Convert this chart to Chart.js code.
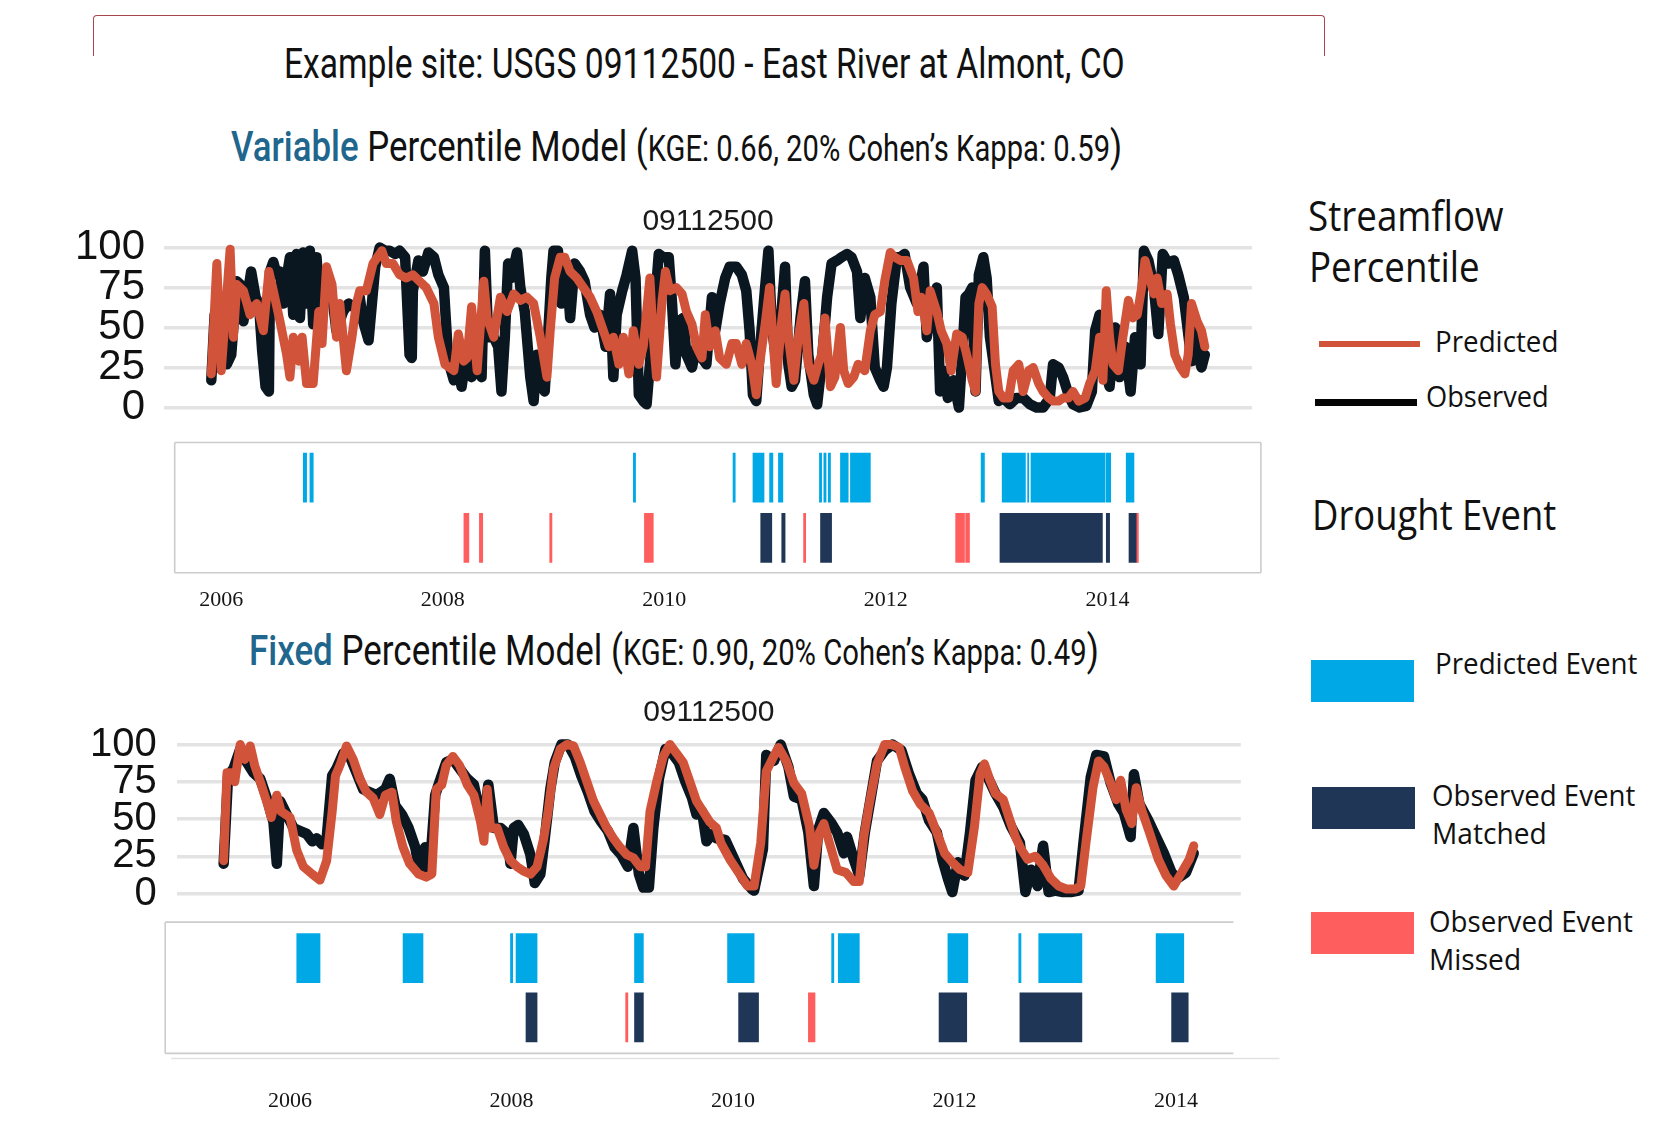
<!DOCTYPE html>
<html lang="en">
<head>
<meta charset="utf-8">
<title>Example site: USGS 09112500 - East River at Almont, CO</title>
<script src="https://cdn.jsdelivr.net/npm/chart.js@4.4.1/dist/chart.umd.min.js"></script>
<style>
  html, body { margin:0; padding:0; background:#fff; }
  #page { position:relative; width:1660px; height:1143px; overflow:hidden; background:#fff; }
  .box { position:absolute; }
  .fit { position:absolute; white-space:nowrap; line-height:1; transform-origin:0 50%; }
  .ttl { font-family:Roboto, 'Liberation Sans', sans-serif; color:#111; }
  .leg { font-family:'Open Sans', 'DejaVu Sans', sans-serif; color:#111; }
  .blue { color:#20668d; font-weight:500; }
  canvas { position:absolute; display:block; }
</style>
</head>
<body>
<div id="page">
  <div class="box" style="left:93px;top:15px;width:1230px;height:40px;border:1.5px solid #a5474c;border-bottom:none;border-radius:4px 4px 0 0;"></div>
  <div class="fit ttl" data-cx="704" data-cy="63.5" data-w="841" style="font-size:43px;">Example site: USGS 09112500 - East River at Almont, CO</div>
  <div class="fit ttl" data-cx="676.5" data-cy="146" data-w="891" style="font-size:43px;"><span class="blue">Variable</span> Percentile Model (<span style="font-size:36px">KGE: 0.66, 20% Cohen’s Kappa: 0.59</span>)</div>
  <div class="fit ttl" data-cx="674" data-cy="650" data-w="850" style="font-size:43px;"><span class="blue">Fixed</span> Percentile Model (<span style="font-size:36px">KGE: 0.90, 20% Cohen’s Kappa: 0.49</span>)</div>

  <canvas id="lineVar" width="1260" height="250" style="left:40px;top:190px"></canvas>
  <canvas id="evVar" width="1130" height="190" style="left:150px;top:430px"></canvas>
  <canvas id="lineFix" width="1260" height="240" style="left:40px;top:680px"></canvas>
  <canvas id="evFix" width="1140" height="210" style="left:140px;top:915px"></canvas>

  <!-- legend -->
  <div class="fit leg" data-x="1307.5" data-cy="215" data-w="196" style="font-size:42px;">Streamflow</div>
  <div class="fit leg" data-x="1308.5" data-cy="265.7" data-w="170.5" style="font-size:42px;">Percentile</div>
  <div class="box" style="left:1319px;top:340.8px;width:101px;height:6.4px;background:#d1533a;"></div>
  <div class="fit leg" data-x="1434.5" data-cy="340" data-w="123.5" style="font-size:29px;">Predicted</div>
  <div class="box" style="left:1315px;top:398.5px;width:101.5px;height:7px;background:#050505;"></div>
  <div class="fit leg" data-x="1426" data-cy="395" data-w="123" style="font-size:29px;">Observed</div>
  <div class="fit leg" data-x="1311.7" data-cy="513.5" data-w="244.5" style="font-size:42px;">Drought Event</div>
  <div class="box" style="left:1310.7px;top:659.6px;width:103.7px;height:42.4px;background:#00a9e6;"></div>
  <div class="fit leg" data-x="1434.5" data-cy="662.7" data-w="202" style="font-size:29px;">Predicted Event</div>
  <div class="box" style="left:1311.7px;top:786.6px;width:103.8px;height:42.4px;background:#1f3657;"></div>
  <div class="fit leg" data-x="1432.4" data-cy="794" data-w="203" style="font-size:29px;">Observed Event</div>
  <div class="fit leg" data-x="1432.4" data-cy="832" data-w="114.4" style="font-size:29px;">Matched</div>
  <div class="box" style="left:1310.7px;top:911.5px;width:103.7px;height:42.5px;background:#ff5e5e;"></div>
  <div class="fit leg" data-x="1429" data-cy="920" data-w="203.5" style="font-size:29px;">Observed Event</div>
  <div class="fit leg" data-x="1429" data-cy="958" data-w="92" style="font-size:29px;">Missed</div>
</div>

<script>
// ---------------- data ----------------
const siteId = '09112500';
const yTicks = [0, 25, 50, 75, 100];
const yearTicks = [2006, 2008, 2010, 2012, 2014];

// Variable percentile model: streamflow percentile (decimal year, percentile)
const predVarX = [2005.91,2005.96,2006.00,2006.08,2006.11,2006.14,2006.20,2006.26,2006.32,2006.38,2006.43,2006.47,2006.53,2006.59,2006.62,2006.65,2006.70,2006.73,2006.77,2006.83,
  2006.88,2006.91,2006.95,2007.00,2007.04,2007.07,2007.13,2007.18,2007.22,2007.25,2007.31,2007.37,2007.45,2007.49,2007.55,2007.61,2007.67,2007.73,2007.79,2007.85,
  2007.92,2007.96,2008.02,2008.10,2008.14,2008.19,2008.22,2008.26,2008.31,2008.37,2008.40,2008.46,2008.52,2008.58,2008.64,2008.70,2008.76,2008.82,2008.88,2008.94,
  2008.97,2009.01,2009.06,2009.10,2009.15,2009.21,2009.27,2009.33,2009.39,2009.45,2009.50,2009.54,2009.59,2009.63,2009.68,2009.72,2009.77,2009.81,2009.87,2009.90,
  2009.93,2009.98,2010.01,2010.05,2010.11,2010.16,2010.20,2010.25,2010.29,2010.34,2010.37,2010.41,2010.46,2010.50,2010.56,2010.61,2010.65,2010.70,2010.74,2010.79,
  2010.83,2010.86,2010.91,2010.95,2010.98,2011.01,2011.06,2011.09,2011.12,2011.17,2011.21,2011.26,2011.30,2011.35,2011.39,2011.42,2011.45,2011.50,2011.54,2011.59,
  2011.62,2011.66,2011.71,2011.75,2011.81,2011.86,2011.90,2011.95,2011.99,2012.04,2012.08,2012.13,2012.19,2012.25,2012.29,2012.32,2012.37,2012.40,2012.46,2012.50,
  2012.55,2012.59,2012.64,2012.69,2012.73,2012.78,2012.81,2012.84,2012.87,2012.91,2012.96,2012.99,2013.02,2013.06,2013.11,2013.15,2013.20,2013.24,2013.29,2013.33,
  2013.38,2013.42,2013.47,2013.51,2013.56,2013.60,2013.65,2013.69,2013.74,2013.80,2013.84,2013.89,2013.93,2013.96,2013.99,2014.02,2014.05,2014.10,2014.14,2014.19,
  2014.23,2014.27,2014.31,2014.34,2014.39,2014.42,2014.45,2014.49,2014.54,2014.57,2014.61,2014.66,2014.70,2014.73,2014.76,2014.81,2014.85,2014.88];
const predVarY = [21,90,23,99,44,77,73,58,65,48,85,73,54,33,19,44,29,44,15,15,
  60,40,88,77,44,65,23,44,65,73,73,90,98,90,90,83,81,83,79,75,
  65,44,27,23,46,29,31,63,23,79,56,44,69,60,71,67,69,65,44,19,
  48,81,94,94,85,81,75,69,60,48,38,44,27,44,21,48,27,38,81,44,
  19,67,85,73,75,71,60,52,38,31,58,38,48,31,27,40,40,27,40,27,
  8,27,52,75,44,15,54,71,44,17,44,65,27,17,27,33,56,13,19,50,
  23,15,19,27,23,48,58,60,79,97,94,92,92,81,60,69,48,73,60,48,
  40,23,46,44,33,17,10,65,75,71,63,27,10,6,6,23,27,10,23,25,
  15,10,6,4,4,6,6,10,4,6,15,23,44,17,73,44,27,23,44,67,
  56,58,75,92,79,71,81,65,71,52,33,25,21,33,65,54,48,38];
const obsVarX = [2005.91,2005.94,2005.97,2006.02,2006.05,2006.09,2006.14,2006.17,2006.20,2006.23,2006.27,2006.31,2006.34,2006.37,2006.40,2006.43,2006.44,2006.47,2006.50,2006.53,
  2006.56,2006.59,2006.62,2006.65,2006.68,2006.71,2006.74,2006.77,2006.80,2006.83,2006.86,2006.89,2006.92,2006.95,2006.98,2007.01,2007.04,2007.07,2007.10,2007.15,
  2007.19,2007.22,2007.25,2007.28,2007.33,2007.36,2007.39,2007.43,2007.48,2007.52,2007.57,2007.61,2007.66,2007.70,2007.72,2007.73,2007.78,2007.82,2007.87,2007.92,
  2007.96,2008.01,2008.05,2008.10,2008.13,2008.17,2008.22,2008.26,2008.31,2008.35,2008.38,2008.41,2008.46,2008.50,2008.53,2008.56,2008.59,2008.62,2008.67,2008.70,
  2008.74,2008.79,2008.82,2008.85,2008.88,2008.92,2008.95,2008.98,2009.00,2009.04,2009.07,2009.12,2009.15,2009.19,2009.24,2009.28,2009.33,2009.37,2009.42,2009.47,
  2009.51,2009.54,2009.57,2009.62,2009.66,2009.71,2009.74,2009.77,2009.81,2009.84,2009.87,2009.92,2009.95,2009.99,2010.04,2010.07,2010.10,2010.13,2010.17,2010.20,
  2010.25,2010.29,2010.34,2010.38,2010.43,2010.46,2010.50,2010.55,2010.59,2010.65,2010.70,2010.74,2010.77,2010.80,2010.83,2010.86,2010.91,2010.94,2010.97,2011.01,
  2011.04,2011.09,2011.12,2011.15,2011.18,2011.23,2011.27,2011.30,2011.35,2011.38,2011.42,2011.47,2011.51,2011.56,2011.60,2011.65,2011.69,2011.74,2011.77,2011.81,
  2011.86,2011.90,2011.95,2011.98,2012.01,2012.05,2012.10,2012.13,2012.17,2012.22,2012.28,2012.34,2012.37,2012.41,2012.46,2012.49,2012.52,2012.56,2012.61,2012.66,
  2012.69,2012.72,2012.75,2012.78,2012.81,2012.84,2012.88,2012.91,2012.94,2012.99,2013.02,2013.06,2013.12,2013.18,2013.24,2013.30,2013.36,2013.42,2013.48,2013.51,
  2013.56,2013.60,2013.65,2013.69,2013.75,2013.81,2013.86,2013.89,2013.93,2013.98,2014.02,2014.07,2014.11,2014.16,2014.21,2014.25,2014.30,2014.33,2014.37,2014.42,
  2014.46,2014.50,2014.55,2014.60,2014.64,2014.69,2014.72,2014.76,2014.79,2014.82,2014.85,2014.88];
const obsVarY = [17,58,27,44,27,33,79,77,54,67,85,69,65,35,13,10,85,91,83,85,
  65,81,94,58,96,56,97,65,98,52,94,65,69,85,69,65,48,54,60,65,
  63,63,69,54,42,65,88,100,98,98,96,98,94,33,31,73,92,85,97,94,
  83,75,29,17,27,13,38,19,27,19,98,44,44,38,10,44,90,81,97,75,
  60,19,4,33,15,10,44,81,98,98,65,85,56,90,85,79,58,50,58,38,
  71,19,58,73,83,98,81,8,4,2,27,69,96,94,94,65,27,54,56,33,
  25,38,31,27,69,48,65,81,88,88,83,73,48,8,4,33,75,98,52,29,
  44,88,27,13,17,56,79,33,8,2,27,69,90,92,94,96,94,85,56,81,
  69,25,17,13,25,65,94,94,96,75,65,88,44,60,75,10,23,6,17,0,
  33,69,71,75,10,83,94,81,44,19,4,6,2,6,6,2,0,0,6,27,
  25,19,8,2,0,1,10,48,58,23,13,50,19,38,10,44,27,98,92,75,
  46,96,90,92,83,69,52,29,48,33,25,33];

// Fixed percentile model
const predFixX = [2005.40,2005.43,2005.47,2005.50,2005.55,2005.59,2005.64,2005.68,2005.74,2005.80,2005.83,2005.88,2005.92,2006.00,2006.06,2006.12,2006.20,2006.27,2006.33,2006.38,
  2006.41,2006.45,2006.51,2006.57,2006.63,2006.69,2006.75,2006.81,2006.86,2006.92,2006.96,2007.02,2007.08,2007.16,2007.23,2007.28,2007.32,2007.37,2007.41,2007.47,
  2007.53,2007.60,2007.66,2007.72,2007.75,2007.78,2007.81,2007.87,2007.93,2007.99,2008.05,2008.11,2008.17,2008.23,2008.29,2008.33,2008.38,2008.44,2008.50,2008.56,
  2008.62,2008.68,2008.74,2008.80,2008.86,2008.92,2008.98,2009.04,2009.10,2009.16,2009.21,2009.25,2009.31,2009.37,2009.43,2009.49,2009.55,2009.61,2009.67,2009.73,
  2009.79,2009.85,2009.89,2009.97,2010.05,2010.13,2010.19,2010.25,2010.30,2010.36,2010.41,2010.48,2010.55,2010.62,2010.69,2010.73,2010.78,2010.82,2010.87,2010.94,
  2011.02,2011.09,2011.14,2011.18,2011.23,2011.30,2011.37,2011.43,2011.50,2011.55,2011.62,2011.69,2011.77,2011.84,2011.91,2011.98,2012.05,2012.12,2012.18,2012.23,
  2012.27,2012.32,2012.37,2012.44,2012.50,2012.55,2012.60,2012.66,2012.73,2012.80,2012.87,2012.94,2013.01,2013.09,2013.14,2013.19,2013.25,2013.30,2013.35,2013.41,
  2013.46,2013.50,2013.55,2013.60,2013.64,2013.69,2013.76,2013.84,2013.91,2013.98,2014.05,2014.12,2014.16];
const predFixY = [22,81,81,75,100,90,99,86,73,59,51,66,55,51,29,18,13,9,22,55,
  79,86,99,90,77,68,64,53,66,68,48,31,20,13,11,13,70,73,86,92,
  86,73,66,48,35,70,44,44,31,22,18,15,13,18,37,55,84,97,100,99,
  88,75,62,53,44,37,31,26,24,18,18,55,75,92,100,94,88,75,62,55,
  48,44,34,23,14,5,5,34,82,91,98,89,74,67,45,19,41,47,34,16,
  14,8,8,38,60,87,100,100,98,85,69,60,54,41,27,21,16,14,45,80,
  87,76,67,63,49,38,30,23,25,19,10,5,3,3,5,36,71,89,85,74,
  63,76,56,47,71,56,41,23,12,5,14,23,32];
const obsFixX = [2005.40,2005.44,2005.49,2005.55,2005.61,2005.67,2005.73,2005.79,2005.85,2005.88,2005.91,2005.97,2006.03,2006.09,2006.15,2006.20,2006.24,2006.29,2006.33,2006.38,
  2006.42,2006.48,2006.54,2006.60,2006.66,2006.72,2006.78,2006.86,2006.90,2006.95,2007.01,2007.07,2007.13,2007.17,2007.22,2007.26,2007.31,2007.35,2007.41,2007.47,
  2007.53,2007.60,2007.66,2007.70,2007.75,2007.79,2007.84,2007.90,2007.96,2007.99,2008.02,2008.06,2008.11,2008.17,2008.21,2008.26,2008.30,2008.35,2008.39,2008.45,
  2008.51,2008.57,2008.63,2008.69,2008.75,2008.81,2008.87,2008.93,2008.99,2009.05,2009.10,2009.15,2009.19,2009.24,2009.28,2009.33,2009.39,2009.45,2009.51,2009.57,
  2009.63,2009.67,2009.72,2009.76,2009.81,2009.85,2009.93,2010.01,2010.09,2010.17,2010.19,2010.27,2010.30,2010.37,2010.43,2010.50,2010.55,2010.62,2010.68,2010.73,
  2010.77,2010.82,2010.89,2010.94,2011.00,2011.03,2011.09,2011.14,2011.19,2011.25,2011.30,2011.37,2011.44,2011.52,2011.59,2011.66,2011.71,2011.77,2011.84,2011.89,
  2011.94,2011.98,2012.03,2012.09,2012.14,2012.19,2012.25,2012.30,2012.37,2012.44,2012.51,2012.59,2012.64,2012.69,2012.75,2012.80,2012.85,2012.91,2012.98,2013.05,
  2013.12,2013.17,2013.23,2013.28,2013.35,2013.41,2013.48,2013.53,2013.59,2013.62,2013.67,2013.75,2013.82,2013.89,2013.96,2014.01,2014.09,2014.16];
const obsFixY = [20,79,84,97,88,81,77,64,48,20,62,53,44,42,40,35,37,33,37,79,
  84,94,92,81,70,68,66,70,77,59,53,44,31,15,31,15,66,75,88,90,
  84,77,73,59,48,73,44,44,40,20,44,46,40,26,7,13,37,70,88,100,
  100,92,79,68,55,48,42,31,26,18,44,13,4,4,44,77,97,94,88,75,
  64,53,55,35,40,37,36,23,10,3,2,30,93,89,100,85,65,63,41,5,
  43,54,47,41,27,38,23,12,41,67,89,96,100,96,80,67,63,49,41,23,
  10,1,21,12,41,76,85,78,67,58,45,34,1,16,5,32,1,2,1,1,
  2,38,78,93,92,74,60,54,38,80,60,49,38,27,14,10,14,27];

// Drought events [start, end] in decimal years
const evVarPred  = [[2006.74,2006.77],[2006.80,2006.83],[2009.72,2009.74],[2010.62,2010.64],[2010.80,2010.90],[2010.95,2010.98],[2011.03,2011.07],[2011.40,2011.42],[2011.44,2011.46],[2011.48,2011.50],[2011.59,2011.66],[2011.68,2011.86],[2012.86,2012.89],[2013.05,2013.26],[2013.28,2013.29],[2013.31,2013.98],[2013.99,2014.03],[2014.17,2014.24]];
const evVarMatch = [[2010.87,2010.97],[2011.06,2011.09],[2011.41,2011.51],[2013.03,2013.955],[2013.99,2014.02],[2014.195,2014.26]];
const evVarMiss  = [[2008.19,2008.235],[2008.33,2008.36],[2008.965,2008.985],[2009.82,2009.90],[2011.257,2011.276],[2012.63,2012.71],[2012.72,2012.755],[2014.26,2014.28]];
const evFixPred  = [[2006.06,2006.27],[2007.02,2007.20],[2007.99,2008.01],[2008.04,2008.23],[2009.11,2009.19],[2009.95,2010.19],[2010.89,2010.91],[2010.95,2011.14],[2011.94,2012.12],[2012.58,2012.60],[2012.76,2013.15],[2013.82,2014.07]];
const evFixMatch = [[2008.13,2008.23],[2009.11,2009.19],[2010.05,2010.23],[2011.86,2012.11],[2012.59,2013.15],[2013.96,2014.11]];
const evFixMiss  = [[2009.03,2009.05],[2010.68,2010.74]];

// ---------------- styling ----------------
const C = { pred:'#d1533a', obs:'#0a1620', evPred:'#00a9e6', evMatch:'#1f3657', evMiss:'#ff5e5e', grid:'#e3e3e3' };
const SANS = "'Liberation Sans', Arial, Helvetica, sans-serif";
const SERIF = "'Liberation Serif', 'Times New Roman', serif";
const pts = (xs, ys) => xs.map((x, i) => ({ x, y: ys[i] }));

function makeLine(id, predX, predY, obsX, obsY, g) {
  return new Chart(document.getElementById(id), {
    type: 'line',
    data: { datasets: [
      { label: 'Predicted', data: pts(predX, predY), borderColor: C.pred, borderWidth: 9, pointRadius: 0,
        tension: 0, order: 0, borderJoinStyle: 'round', borderCapStyle: 'round', clip: false },
      { label: 'Observed', data: pts(obsX, obsY), borderColor: C.obs, borderWidth: 10.5, pointRadius: 0,
        tension: 0, order: 1, borderJoinStyle: 'round', borderCapStyle: 'round', clip: false }
    ]},
    options: {
      responsive: false, animation: false, events: [],
      layout: { padding: g.padding },
      plugins: {
        legend: { display: false }, tooltip: { enabled: false },
        title: { display: true, fullSize: false, text: siteId, color: '#1a1a1a',
                 font: { family: SANS, size: 30, weight: 'normal', lineHeight: 1.2 }, padding: g.titlePad }
      },
      scales: {
        x: { type: 'linear', min: g.xmin, max: g.xmax, display: false },
        y: { min: 0, max: 100,
             afterBuildTicks: ax => { ax.ticks = yTicks.map(v => ({ value: v })); },
             afterFit: ax => { ax.width = g.yWidth; ax.paddingTop = 0; ax.paddingBottom = 0; },
             grid: { color: C.grid, lineWidth: 3.5, drawTicks: false },
             border: { display: false },
             ticks: { autoSkip: false, padding: g.tickPad, color: '#111', font: { family: SANS, size: g.tickSize, lineHeight: 1 } } }
      }
    }
  });
}

const framePlugin = {
  id: 'frame',
  beforeDatasetsDraw(chart, args, o) {
    const a = chart.chartArea, ctx = chart.ctx;
    const t = a.top - o.padTop, b = a.bottom + o.padBottom, l = a.left, r = a.right;
    ctx.save();
    ctx.strokeStyle = o.color; ctx.lineWidth = o.width;
    ctx.beginPath();
    if (o.sides.includes('t')) { ctx.moveTo(l, t); ctx.lineTo(r, t); }
    if (o.sides.includes('r')) { ctx.moveTo(r, t); ctx.lineTo(r, b); }
    if (o.sides.includes('b')) { ctx.moveTo(l, b); ctx.lineTo(r, b); }
    if (o.sides.includes('l')) { ctx.moveTo(l, t); ctx.lineTo(l, b); }
    ctx.stroke();
    if (o.extra) {
      ctx.strokeStyle = o.extra.color; ctx.lineWidth = 1.5;
      ctx.beginPath(); ctx.moveTo(l + o.extra.x0, b + o.extra.dy); ctx.lineTo(r + o.extra.x1, b + o.extra.dy); ctx.stroke();
    }
    ctx.restore();
  }
};

function makeEvents(id, pred, match, miss, g) {
  const mk = (arr, row, color) => ({
    data: arr.map(r => ({ x: r, y: row })), backgroundColor: color, borderWidth: 0,
    grouped: false, barThickness: 49
  });
  return new Chart(document.getElementById(id), {
    type: 'bar',
    data: { labels: ['Predicted', 'Observed'], datasets: [
      mk(pred, 'Predicted', C.evPred), mk(match, 'Observed', C.evMatch), mk(miss, 'Observed', C.evMiss)
    ]},
    options: {
      indexAxis: 'y', responsive: false, animation: false, events: [],
      layout: { padding: g.padding },
      plugins: { legend: { display: false }, tooltip: { enabled: false }, frame: g.frame },
      scales: {
        x: { type: 'linear', min: g.xmin, max: g.xmax,
             grid: { display: false, drawTicks: false }, border: { display: false },
             afterBuildTicks: ax => { ax.ticks = yearTicks.map(v => ({ value: v })); },
             afterFit: ax => { ax.height = g.tickPad + 26.4; },
             ticks: { autoSkip: false, maxRotation: 0, padding: g.tickPad, color: '#151515',
                      font: { family: SERIF, size: 22, lineHeight: 1.2 }, callback: v => String(v) } },
        y: { type: 'category', display: false, offset: true }
      }
    },
    plugins: [framePlugin]
  });
}

makeLine('lineVar', predVarX, predVarY, obsVarX, obsVarY, {
  xmin: 2005.483, xmax: 2015.306, yWidth: 124, tickPad: 19, tickSize: 42,
  titlePad: { top: 14, bottom: 7.6 }, padding: { left: 0, right: 48, top: 0, bottom: 32.5 }
});
makeEvents('evVar', evVarPred, evVarMatch, evVarMiss, {
  xmin: 2005.579, xmax: 2015.386, tickPad: 18.8,
  padding: { left: 24.7, right: 19.1, top: 17.4, bottom: 6.8 },
  frame: { color: '#cccccc', width: 1.6, padTop: 4.9, padBottom: 4.8, sides: 'trbl' }
});
makeLine('lineFix', predFixX, predFixY, obsFixX, obsFixY, {
  xmin: 2004.977, xmax: 2014.585, yWidth: 136.8, tickPad: 20, tickSize: 40,
  titlePad: { top: 14.5, bottom: 14 }, padding: { left: 0, right: 59.2, top: 0, bottom: 26.5 }
});
makeEvents('evFix', evFixPred, evFixMatch, evFixMiss, {
  xmin: 2004.872, xmax: 2014.518, tickPad: 41,
  padding: { left: 25.2, right: 46.6, top: 13.5, bottom: 10.5 },
  frame: { color: '#cccccc', width: 1.6, padTop: 6.4, padBottom: 6.3, sides: 'tbl',
           extra: { color: '#e2e2e2', dy: 5, x0: 6, x1: 46 } }
});

// ---------------- text fitting ----------------
function fitAll() {
  document.querySelectorAll('.fit').forEach(el => {
    el.style.transform = 'none';
    const w = el.offsetWidth, h = el.offsetHeight;
    const tw = +el.dataset.w || w;
    const left = el.dataset.cx ? (+el.dataset.cx - tw / 2) : +el.dataset.x;
    el.style.left = left + 'px';
    el.style.top = (+el.dataset.cy - h / 2) + 'px';
    el.style.transform = 'scaleX(' + (tw / w) + ')';
  });
}
fitAll();
if (document.fonts && document.fonts.ready) document.fonts.ready.then(fitAll);
</script>
</body>
</html>
